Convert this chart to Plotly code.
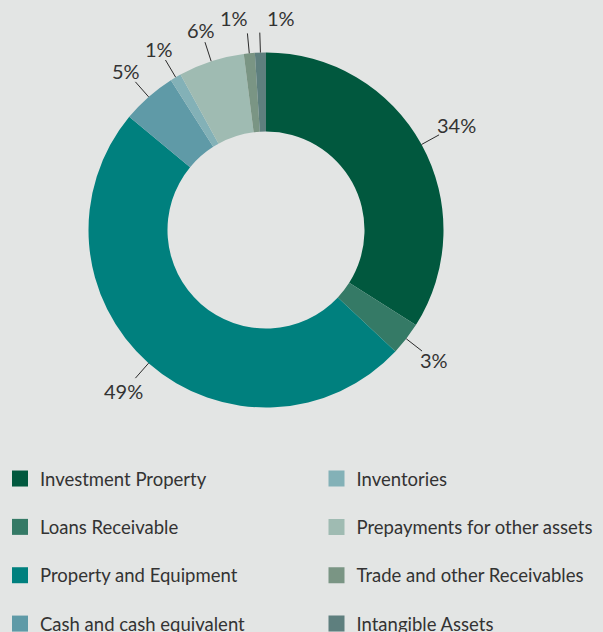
import math
import plotly.graph_objects as go

# Asset composition (percent of total assets)
categories = [
    "Investment Property",
    "Loans Receivable",
    "Property and Equipment",
    "Cash and cash equivalent",
    "Inventories",
    "Prepayments for other assets",
    "Trade and other Receivables",
    "Intangible Assets",
]
shares = [34, 3, 49, 5, 1, 6, 1, 1]
colors = [
    "#01583e",
    "#357a66",
    "#00807e",
    "#5f9aa7",
    "#83b1b7",
    "#9fbbb2",
    "#7a9584",
    "#5e7f7e",
]

W, H = 603, 632
BG = "#e3e5e4"
TEXT = "#333333"
FONT = "Lato"
LABEL_SIZE = 20
LEGEND_SIZE = 18.5

# donut geometry in pixels (page has no margins)
cx, cy, R = 266.0, 230.0, 177.5
hole = 0.555
LEADER = 20


def to_paper(px, py):
    return px / W, 1 - py / H


fig = go.Figure()

x0, _ = to_paper(cx - R, 0)
x1, _ = to_paper(cx + R, 0)
_, y0 = to_paper(0, cy + R)
_, y1 = to_paper(0, cy - R)

fig.add_trace(go.Pie(
    labels=categories,
    values=shares,
    marker=dict(colors=colors, line=dict(width=0)),
    hole=hole,
    sort=False,
    direction="clockwise",
    rotation=0,
    textinfo="none",
    hoverinfo="label+percent",
    showlegend=False,
    domain=dict(x=[x0, x1], y=[y0, y1]),
))

# leader lines and outside percentage labels, placed at each slice's mid angle
total = sum(shares)
shapes = []
annotations = []
cum = 0.0
for i, v in enumerate(shares):
    mid = (cum + v / 2) / total * 2 * math.pi
    cum += v
    s, c = math.sin(mid), math.cos(mid)
    ax, ay = cx + R * s, cy - R * c
    bx, by = cx + (R + LEADER) * s, cy - (R + LEADER) * c
    p0 = to_paper(ax, ay)
    p1 = to_paper(bx, by)
    shapes.append(dict(type="line", xref="paper", yref="paper",
                       x0=p0[0], y0=p0[1], x1=p1[0], y1=p1[1],
                       line=dict(color="#2b2b2b", width=1)))
    text = f"{v}%"
    font = dict(family=FONT, size=LABEL_SIZE, color=TEXT)
    if c > 0.98:
        # labels crowded at the top: stack them side by side above the lines
        deg = math.degrees(mid)
        if deg > 357 or deg < 3:
            xanchor, tx = "left", bx + 5
        else:
            xanchor, tx = "right", bx + 3
        tp = to_paper(tx, by - 1)
        annotations.append(dict(x=tp[0], y=tp[1], xref="paper", yref="paper",
                                text=text, showarrow=False,
                                xanchor=xanchor, yanchor="bottom", font=font))
        continue
    # centre the label beyond the line end, offset by its half extent
    hw = len(text) * 0.3 * LABEL_SIZE
    hh = 0.4 * LABEL_SIZE
    off = 4 + math.sqrt((hw * s) ** 2 + (hh * c) ** 2)
    tp = to_paper(bx + off * s, by - off * c)
    annotations.append(dict(x=tp[0], y=tp[1], xref="paper", yref="paper",
                            text=text, showarrow=False,
                            xanchor="center", yanchor="middle", font=font))

# legend entries: two columns of four
for i, (name, col) in enumerate(zip(categories, colors)):
    fig.add_trace(go.Scatter(
        x=[None], y=[None], mode="markers", name=name,
        marker=dict(symbol="square", size=16, color=col),
        legendgroup=f"g{i}",
        legend="legend" if i < 4 else "legend2",
        hoverinfo="skip",
    ))

legend_style = dict(
    bgcolor="rgba(0,0,0,0)",
    font=dict(family=FONT, size=LEGEND_SIZE, color=TEXT),
    traceorder="grouped",
    tracegroupgap=21.3,
    yanchor="top",
    xanchor="left",
    itemclick=False,
    itemdoubleclick=False,
)

fig.update_layout(
    width=W, height=H,
    paper_bgcolor=BG, plot_bgcolor=BG,
    margin=dict(l=0, r=0, t=0, b=0, autoexpand=False),
    xaxis=dict(visible=False), yaxis=dict(visible=False),
    legend=dict(x=0.0, y=1 - 460 / H, **legend_style),
    legend2=dict(x=316.5 / W, y=1 - 460 / H, **legend_style),
    shapes=shapes,
    annotations=annotations,
)

fig.write_html("out.html")
